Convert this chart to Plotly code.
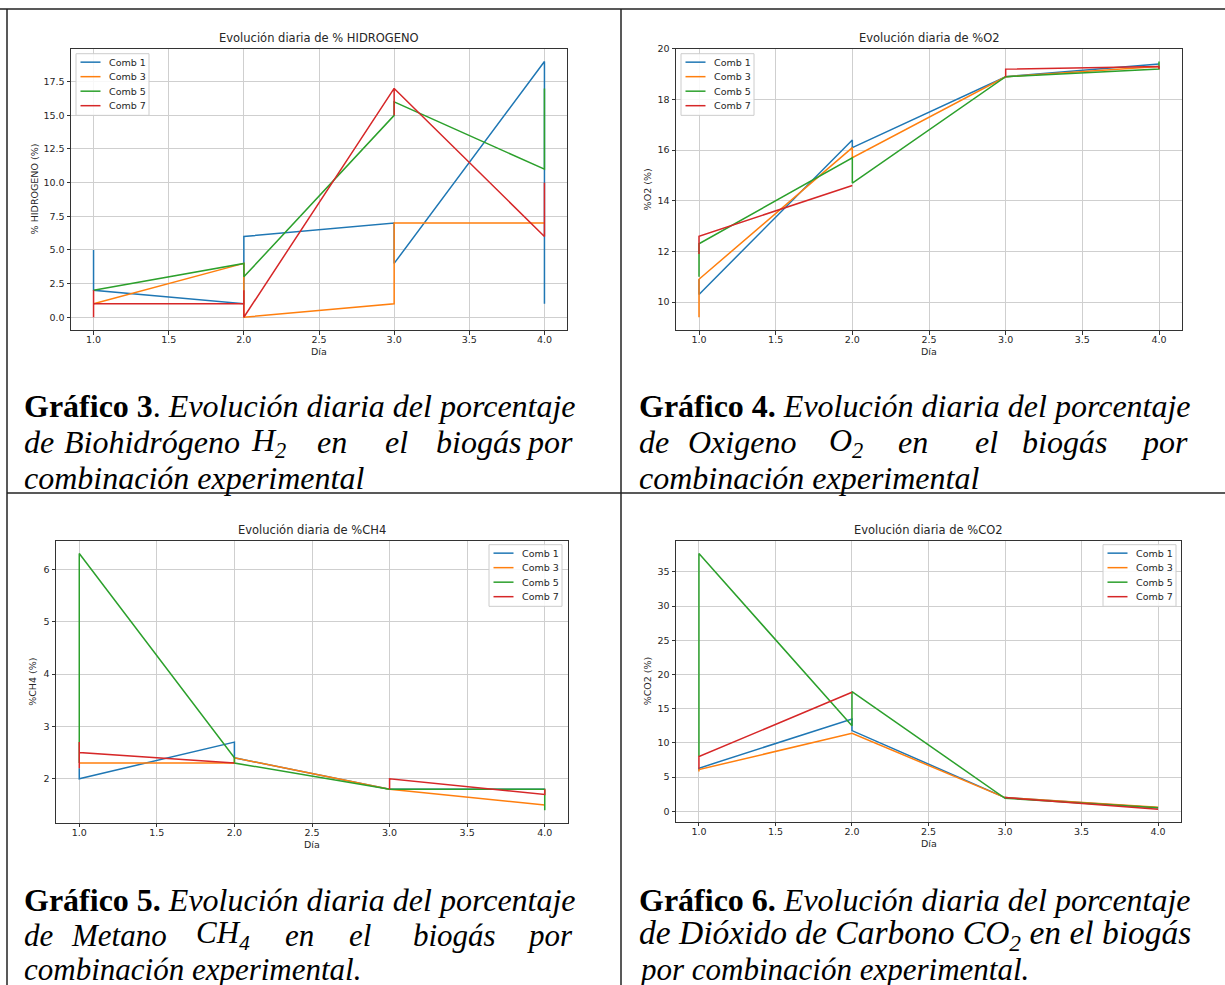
import plotly.graph_objects as go
import numpy as np

W, H = 1225, 985

# ---------------- data ----------------
series_names = ["Comb 1", "Comb 3", "Comb 5", "Comb 7"]
colors = ["#1f77b4", "#ff7f0e", "#2ca02c", "#d62728"]

dias = [1, 1, 2, 2, 3, 3, 4, 4]
dias_h2_c7 = [1, 1, 1, 2, 2, 2, 3, 3, 3, 4, 4]
dias_ch4_c7 = [1, 1, 1, 2, 2, 3, 3, 4, 4]

h2_c1 = [5, 2, 1, 6, 7, 4, 19, 1]
h2_c3 = [1, 1, 4, 0, 1, 7, 7, 7]
h2_c5 = [2, 2, 4, 3, 15, 16, 11, 17]
h2_c7 = [0, 2, 1, 1, 2, 0, 17, 15, 17, 6, 10]

o2_c1 = [10.9, 10.3, 16.4, 16.1, 18.9, 18.9, 19.4, 19.4]
o2_c3 = [9.4, 10.9, 16.1, 15.7, 18.9, 18.9, 19.3, 19.3]
o2_c5 = [11.0, 12.3, 15.7, 14.7, 18.9, 18.9, 19.2, 19.5]
o2_c7 = [11.9, 12.6, 14.6, None, 18.9, 19.2, 19.3, 19.2]

ch4_c1 = [2.2, 2.0, 2.7, 2.4, 1.8, 1.8, 1.8, 1.8]
ch4_c3 = [2.3, 2.3, 2.3, 2.4, 1.8, 1.8, 1.5, 1.5]
ch4_c5 = [2.3, 6.3, 2.4, 2.3, 1.8, 1.8, 1.8, 1.4]
ch4_c7 = [2.2, 2.7, 2.5, 2.3, None, 1.8, 2.0, 1.7, 1.8]

co2_c1 = [6.0, 6.3, 13.5, 11.8, 2.0, 2.0, 0.5, 0.5]
co2_c3 = [5.8, 6.1, 11.4, 11.4, 2.0, 2.0, 0.6, 0.6]
co2_c5 = [8.0, 37.7, 12.5, 17.5, 1.9, 1.9, 0.5, 0.5]
co2_c7 = [6.2, 8.0, 17.4, None, 2.0, 2.0, 0.3, 0.3]

panels = [
    dict(title="Evolución diaria de % HIDROGENO", ylabel="% HIDROGENO (%)",
         xs=[dias, dias, dias, dias_h2_c7], ys=[h2_c1, h2_c3, h2_c5, h2_c7],
         dtick=2.5, fmt=".1f", box=(71, 567, 43, 326), ylx=34, leg=(76, 48)),
    dict(title="Evolución diaria de %O2", ylabel="%O2 (%)",
         xs=[dias, dias, dias, dias], ys=[o2_c1, o2_c3, o2_c5, o2_c7],
         dtick=2, fmt="d", box=(676, 1182, 43, 326), ylx=647, leg=(681, 48)),
    dict(title="Evolución diaria de %CH4", ylabel="%CH4 (%)",
         xs=[dias, dias, dias, dias_ch4_c7], ys=[ch4_c1, ch4_c3, ch4_c5, ch4_c7],
         dtick=1, fmt="d", box=(56, 568, 538, 822), ylx=33, leg=(489, 542)),
    dict(title="Evolución diaria de %CO2", ylabel="%CO2 (%)",
         xs=[dias, dias, dias, dias], ys=[co2_c1, co2_c3, co2_c5, co2_c7],
         dtick=5, fmt="d", box=(676, 1181, 538, 821), ylx=647, leg=(1103, 542)),
]

def px(x):
    return x / W

def py(y):
    return 1 - y / H

fig = go.Figure()
layout = dict(width=W, height=H, margin=dict(l=0, r=0, t=0, b=0),
              paper_bgcolor="white", plot_bgcolor="white", showlegend=False)
annotations = []
shapes = []
chart_font = "DejaVu Sans"
txt_col = "#262626"

for i, p in enumerate(panels):
    n = "" if i == 0 else str(i + 1)
    for k in range(4):
        fig.add_trace(go.Scatter(
            x=p["xs"][k], y=p["ys"][k], mode="lines", name=series_names[k],
            line=dict(color=colors[k], width=1.5), connectgaps=False,
            xaxis="x" + n, yaxis="y" + n, showlegend=False))
    x0, x1, y0, y1 = p["box"]
    allx = np.array([v for s in p["xs"] for v in s], dtype=float)
    ally = np.array([v if v is not None else np.nan for s in p["ys"] for v in s], dtype=float)
    xmin, xmax = np.nanmin(allx), np.nanmax(allx)
    ymin, ymax = np.nanmin(ally), np.nanmax(ally)
    xr = [xmin - 0.05 * (xmax - xmin), xmax + 0.05 * (xmax - xmin)]
    yr = [ymin - 0.05 * (ymax - ymin), ymax + 0.05 * (ymax - ymin)]
    common = dict(showline=True, mirror=True, linecolor="#333333", linewidth=1,
                  ticks="outside", ticklen=3.5, tickcolor="#333333", tickwidth=1,
                  showgrid=True, gridcolor="#cfcfcf", gridwidth=1, zeroline=False,
                  tickfont=dict(family=chart_font, size=9.5, color=txt_col))
    layout["xaxis" + n] = dict(common, domain=[px(x0), px(x1)], range=xr,
                               anchor="y" + n, dtick=0.5, tick0=1, tickformat=".1f",
                               ticklabelstandoff=-3)
    layout["yaxis" + n] = dict(common, domain=[py(y1), py(y0)], range=yr,
                               anchor="x" + n, dtick=p["dtick"], tick0=0,
                               tickformat=p["fmt"])
    cx = (x0 + x1) / 2
    annotations.append(dict(text=p["title"], x=px(cx), y=py(y0 - 11), xref="paper",
                            yref="paper", showarrow=False, xanchor="center",
                            yanchor="middle",
                            font=dict(family=chart_font, size=11.5, color=txt_col)))
    annotations.append(dict(text="Día", x=px(cx), y=py(y1 + 22), xref="paper",
                            yref="paper", showarrow=False, xanchor="center",
                            yanchor="middle",
                            font=dict(family=chart_font, size=9.5, color=txt_col)))
    annotations.append(dict(text=p["ylabel"], x=px(p["ylx"]), y=py((y0 + y1) / 2),
                            xref="paper", yref="paper", showarrow=False,
                            xanchor="center", yanchor="middle", textangle=-90,
                            font=dict(family=chart_font, size=9.5, color=txt_col)))
    # legend (drawn as decoration)
    lx, ly = p["leg"]
    shapes.append(dict(type="rect", xref="paper", yref="paper",
                       x0=px(lx), x1=px(lx + 73), y0=py(ly), y1=py(ly + 62),
                       fillcolor="rgba(255,255,255,0.85)",
                       line=dict(color="#cccccc", width=1), layer="above"))
    for k in range(4):
        yy = ly + 8.5 + 14.6 * k
        shapes.append(dict(type="line", xref="paper", yref="paper",
                           x0=px(lx + 4.5), x1=px(lx + 24.5), y0=py(yy), y1=py(yy),
                           line=dict(color=colors[k], width=1.5), layer="above"))
        annotations.append(dict(text=series_names[k], x=px(lx + 30.5), y=py(yy),
                                xref="paper", yref="paper", showarrow=False,
                                xanchor="left", yanchor="middle",
                                font=dict(family=chart_font, size=9.5, color=txt_col)))

# ---------------- table borders ----------------
line_col = "#222222"
shapes.append(dict(type="line", xref="paper", yref="paper", x0=0, x1=1,
                   y0=py(3), y1=py(3), line=dict(color=line_col, width=1.5)))
shapes.append(dict(type="line", xref="paper", yref="paper", x0=px(7), x1=1,
                   y0=py(490), y1=py(490), line=dict(color=line_col, width=1.5)))
shapes.append(dict(type="line", xref="paper", yref="paper", x0=px(7), x1=px(7),
                   y0=py(3), y1=0, line=dict(color=line_col, width=1.5)))
shapes.append(dict(type="line", xref="paper", yref="paper", x0=px(621), x1=px(621),
                   y0=py(3), y1=0, line=dict(color=line_col, width=1.5)))

# ---------------- captions ----------------
cap_font = "Liberation Serif, Times New Roman, serif"
cap_size = 32

def cap(text, x, y, anchor="left", size=cap_size):
    annotations.append(dict(text=text, x=px(x), y=py(y), xref="paper", yref="paper",
                            showarrow=False, xanchor=anchor, yanchor="middle",
                            font=dict(family=cap_font, size=size, color="black")))

def words(ws, y, left, right, centers, size=cap_size):
    cap(ws[0], left, y, "left", size)
    for w, c in zip(ws[1:-1], centers):
        cap(w, c, y, "center", size)
    cap(ws[-1], right, y, "right", size)

# Gráfico 3
cap("<b>Gráfico 3</b>. <i>Evolución diaria del porcentaje</i>", 22, 402)
words(["<i>de</i>", "<i>Biohidrógeno</i>", "<i>H<sub>2</sub></i>", "<i>en</i>",
       "<i>el</i>", "<i>biogás</i>", "<i>por</i>"], 439, 22, 575,
      [152, 268, 332, 396, 478])
cap("<i>combinación experimental</i>", 22, 475)

# Gráfico 4
cap("<b>Gráfico 4.</b> <i>Evolución diaria del porcentaje</i>", 637, 402)
words(["<i>de</i>", "<i>Oxigeno</i>", "<i>O<sub>2</sub></i>", "<i>en</i>",
       "<i>el</i>", "<i>biogás</i>", "<i>por</i>"], 439, 637, 1190,
      [742, 846, 913, 986, 1064])
cap("<i>combinación experimental</i>", 637, 475)

# Gráfico 5
cap("<b>Gráfico 5.</b> <i>Evolución diaria del porcentaje</i>", 22, 899)
words(["<i>de</i>", "<i>Metano</i>", "<i>CH<sub>4</sub></i>", "<i>en</i>",
       "<i>el</i>", "<i>biogás</i>", "<i>por</i>"], 935, 22, 575,
      [119, 223, 299, 360, 454], size=31)
cap("<i>combinación experimental.</i>", 22, 969, size=31)

# Gráfico 6
cap("<b>Gráfico 6.</b> <i>Evolución diaria del porcentaje</i>", 637, 899)
cap("<i>de Dióxido de Carbono CO<sub>2</sub> en el biogás</i>", 637, 935, size=33.5)
cap("<i>por combinación experimental.</i>", 637, 969, size=31)

layout["annotations"] = annotations
layout["shapes"] = shapes
fig.update_layout(**layout)
fig.write_html("out.html")
